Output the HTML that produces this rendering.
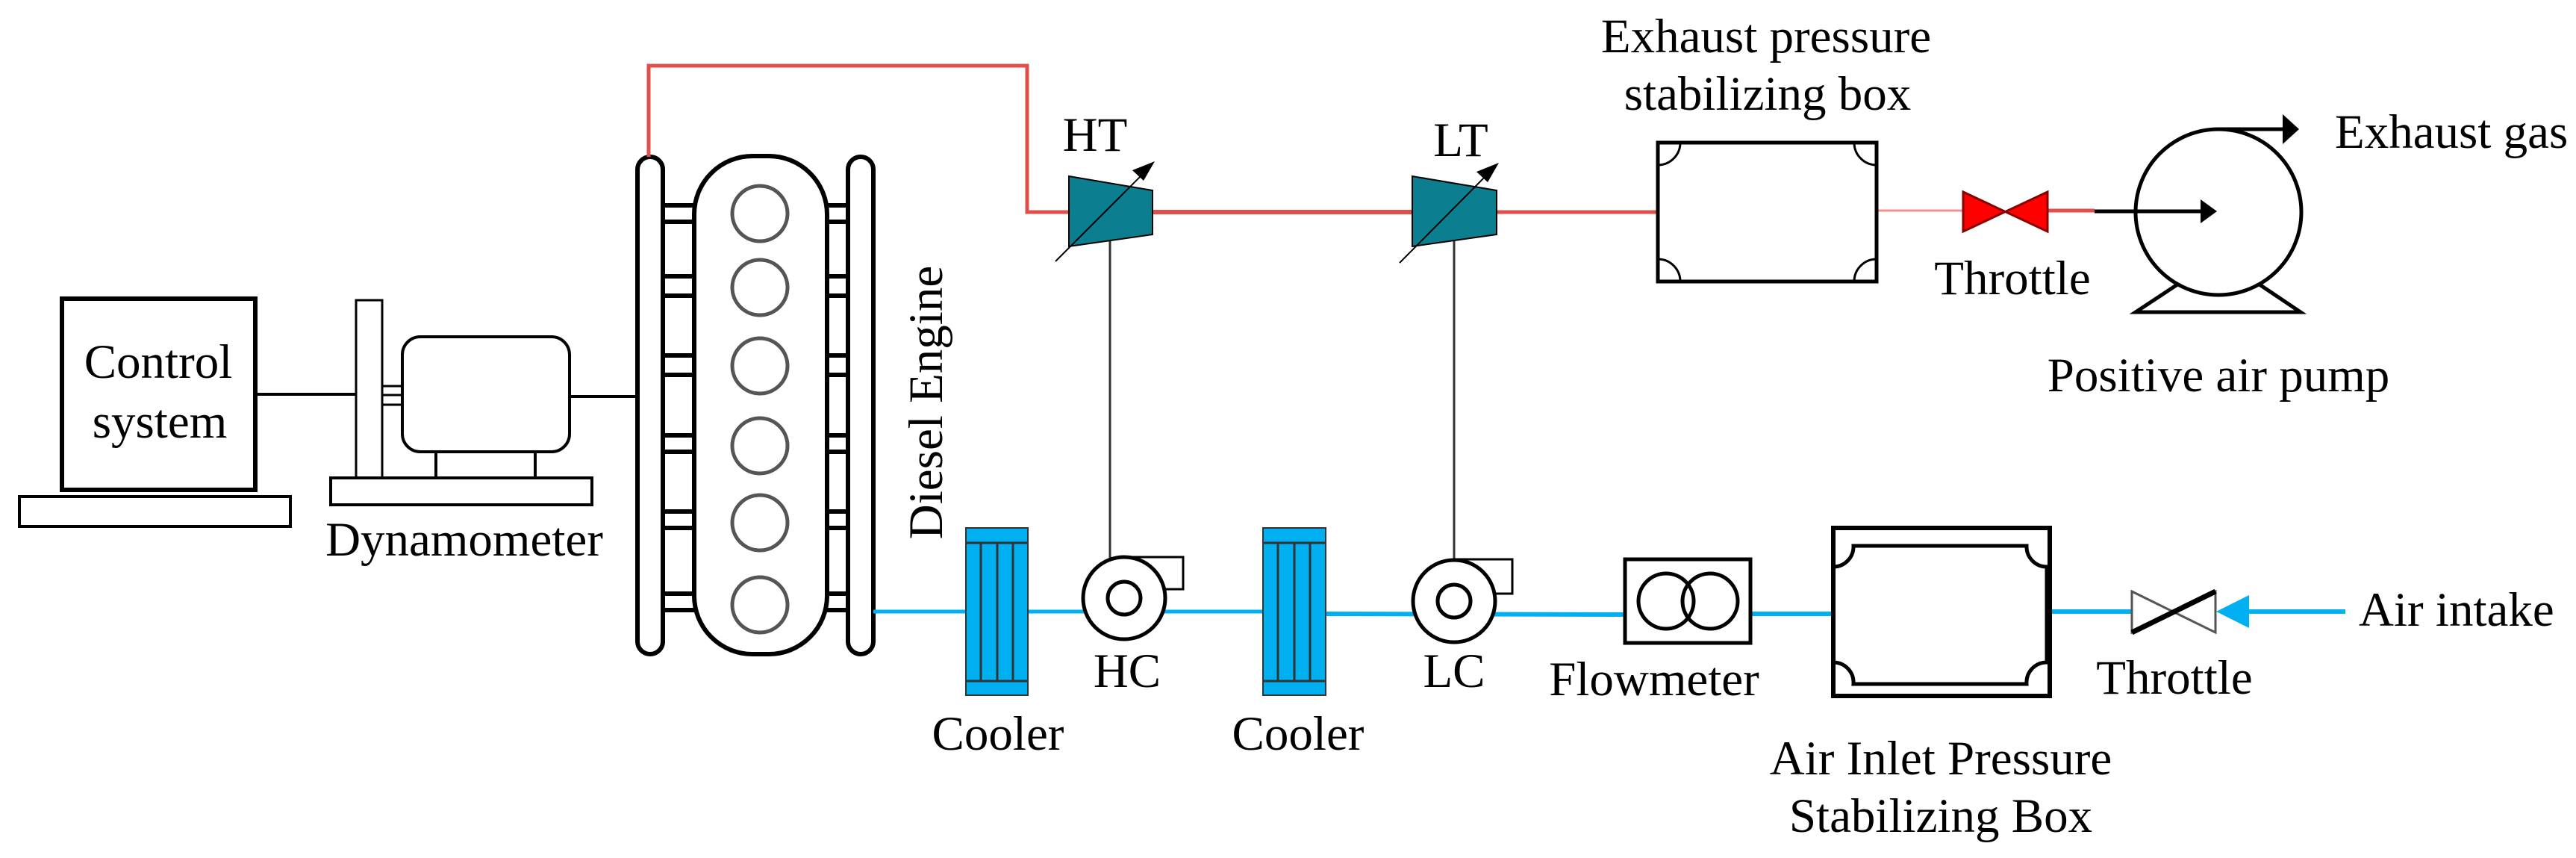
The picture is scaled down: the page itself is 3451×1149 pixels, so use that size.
<!DOCTYPE html>
<html><head><meta charset="utf-8"><style>
html,body{margin:0;padding:0;background:#fff;}
svg{display:block;}
svg text{font-family:"Times New Roman","Liberation Serif","DejaVu Serif",serif;font-size:65px;fill:#000;}
</style></head><body>
<svg width="3451" height="1149" viewBox="0 0 3451 1149" xmlns="http://www.w3.org/2000/svg">
<rect x="83" y="400" width="259" height="256" fill="#fff" stroke="#000" stroke-width="6"/>
<rect x="26" y="665" width="363" height="40" fill="#fff" stroke="#000" stroke-width="4"/>
<line x1="342" y1="528" x2="477" y2="528" stroke="#000" stroke-width="4"/>
<rect x="477" y="402" width="35" height="239" fill="#fff" stroke="#000" stroke-width="3"/>
<rect x="443" y="640" width="350" height="36" fill="#fff" stroke="#000" stroke-width="4"/>
<rect x="512" y="517" width="27" height="25" fill="#fff" stroke="#000" stroke-width="3"/>
<line x1="512" y1="529" x2="539" y2="529" stroke="#000" stroke-width="3"/>
<rect x="539" y="451" width="224" height="154" rx="24" fill="#fff" stroke="#000" stroke-width="4"/>
<line x1="584" y1="605" x2="584" y2="640" stroke="#000" stroke-width="4"/>
<line x1="717" y1="605" x2="717" y2="640" stroke="#000" stroke-width="4"/>
<line x1="763" y1="531" x2="854" y2="531" stroke="#000" stroke-width="4"/>
<g stroke="#000" stroke-width="6" fill="#fff">
<rect x="854" y="210" width="34" height="666" rx="17"/>
<rect x="1136" y="210" width="34" height="666" rx="17"/>
<rect x="930" y="209" width="178" height="667" rx="78"/>
</g>
<g stroke="#000" stroke-width="6">
<line x1="888" y1="275" x2="930" y2="275"/><line x1="888" y1="297" x2="930" y2="297"/>
<line x1="888" y1="370" x2="930" y2="370"/><line x1="888" y1="396" x2="930" y2="396"/>
<line x1="888" y1="476" x2="930" y2="476"/><line x1="888" y1="502" x2="930" y2="502"/>
<line x1="888" y1="583" x2="930" y2="583"/><line x1="888" y1="605" x2="930" y2="605"/>
<line x1="888" y1="685" x2="930" y2="685"/><line x1="888" y1="707" x2="930" y2="707"/>
<line x1="888" y1="795" x2="930" y2="795"/><line x1="888" y1="817" x2="930" y2="817"/>
<line x1="1108" y1="275" x2="1136" y2="275"/><line x1="1108" y1="297" x2="1136" y2="297"/>
<line x1="1108" y1="370" x2="1136" y2="370"/><line x1="1108" y1="396" x2="1136" y2="396"/>
<line x1="1108" y1="476" x2="1136" y2="476"/><line x1="1108" y1="502" x2="1136" y2="502"/>
<line x1="1108" y1="583" x2="1136" y2="583"/><line x1="1108" y1="605" x2="1136" y2="605"/>
<line x1="1108" y1="685" x2="1136" y2="685"/><line x1="1108" y1="707" x2="1136" y2="707"/>
<line x1="1108" y1="795" x2="1136" y2="795"/><line x1="1108" y1="817" x2="1136" y2="817"/>
</g>
<g stroke="#555" stroke-width="5" fill="none">
<circle cx="1018" cy="286" r="37"/><circle cx="1018" cy="385" r="37"/>
<circle cx="1018" cy="490" r="37"/><circle cx="1018" cy="597" r="37"/>
<circle cx="1018" cy="700" r="37"/><circle cx="1018" cy="810" r="37"/>
</g>
<polyline points="869,210 869,88 1376,88 1376,284 1432,284" fill="none" stroke="#e0504a" stroke-width="5"/>
<line x1="1544" y1="284" x2="1892" y2="284" stroke="#e0504a" stroke-width="6"/>
<line x1="2005" y1="284" x2="2221" y2="284" stroke="#e0504a" stroke-width="5"/>
<line x1="2514" y1="282" x2="2630" y2="282" stroke="#f09090" stroke-width="3"/>
<line x1="2743" y1="282" x2="2806" y2="282" stroke="#e0504a" stroke-width="5"/>
<line x1="1487" y1="320" x2="1487" y2="748" stroke="#333" stroke-width="3"/>
<line x1="1948" y1="320" x2="1948" y2="750" stroke="#333" stroke-width="3"/>
<polygon points="1432,236 1544,255 1544,314 1432,330" fill="#0b7f8f" stroke="#000" stroke-width="2"/>
<line x1="1414" y1="350" x2="1540" y2="224" stroke="#000" stroke-width="2"/>
<polygon points="1547,216 1517,228 1532,242" fill="#000"/>
<polygon points="1892,236 2005,255 2005,314 1892,330" fill="#0b7f8f" stroke="#000" stroke-width="2"/>
<line x1="1875" y1="352" x2="2000" y2="226" stroke="#000" stroke-width="2"/>
<polygon points="2008,218 1978,230 1993,244" fill="#000"/>
<rect x="2221" y="191" width="293" height="186" fill="#fff" stroke="#000" stroke-width="5"/>
<g fill="none" stroke="#000" stroke-width="3">
<path d="M2221,221 A30,30 0 0 0 2251,191"/>
<path d="M2484,191 A30,30 0 0 0 2514,221"/>
<path d="M2221,347 A30,30 0 0 1 2251,377"/>
<path d="M2484,377 A30,30 0 0 1 2514,347"/>
</g>
<polygon points="2630,257 2743,310 2743,257 2630,310" fill="#ff0000" stroke="#800" stroke-width="3"/>
<circle cx="2972" cy="284" r="111" fill="none" stroke="#000" stroke-width="5"/>
<polyline points="2917,381 2861,418 3082,418 3027,381" fill="none" stroke="#000" stroke-width="5"/>
<line x1="2806" y1="283" x2="2950" y2="283" stroke="#000" stroke-width="5"/>
<polygon points="2970,283 2948,267 2948,299" fill="#000"/>
<line x1="2972" y1="173" x2="3060" y2="173" stroke="#000" stroke-width="5"/>
<polygon points="3080,173 3058,153 3058,193" fill="#000"/>
<line x1="1170" y1="819" x2="1294" y2="819" stroke="#00b0f0" stroke-width="5"/>
<line x1="1377" y1="819" x2="1692" y2="819" stroke="#00b0f0" stroke-width="5"/>
<line x1="1776" y1="822" x2="2177" y2="823" stroke="#00b0f0" stroke-width="6"/>
<line x1="2345" y1="822" x2="2456" y2="822" stroke="#00b0f0" stroke-width="6"/>
<line x1="2746" y1="819" x2="2856" y2="819" stroke="#00b0f0" stroke-width="6"/>
<line x1="3010" y1="819" x2="3142" y2="819" stroke="#00b0f0" stroke-width="6"/>
<polygon points="2969,819 3013,797 3013,841" fill="#00b0f0"/>
<g>
<rect x="1294" y="707" width="83" height="224" fill="#00b0f0" stroke="#333" stroke-width="2"/>
<line x1="1294" y1="727" x2="1377" y2="727" stroke="#333" stroke-width="3"/>
<line x1="1294" y1="912" x2="1377" y2="912" stroke="#333" stroke-width="3"/>
<line x1="1314" y1="727" x2="1314" y2="912" stroke="#333" stroke-width="3"/>
<line x1="1336" y1="727" x2="1336" y2="912" stroke="#333" stroke-width="3"/>
<line x1="1357" y1="727" x2="1357" y2="912" stroke="#333" stroke-width="3"/>
</g>
<g>
<rect x="1692" y="707" width="84" height="224" fill="#00b0f0" stroke="#333" stroke-width="2"/>
<line x1="1692" y1="727" x2="1776" y2="727" stroke="#333" stroke-width="3"/>
<line x1="1692" y1="912" x2="1776" y2="912" stroke="#333" stroke-width="3"/>
<line x1="1712" y1="727" x2="1712" y2="912" stroke="#333" stroke-width="3"/>
<line x1="1734" y1="727" x2="1734" y2="912" stroke="#333" stroke-width="3"/>
<line x1="1755" y1="727" x2="1755" y2="912" stroke="#333" stroke-width="3"/>
</g>
<rect x="1506" y="746" width="79" height="43" fill="#fff" stroke="#000" stroke-width="3"/>
<circle cx="1506" cy="801" r="55" fill="#fff" stroke="#000" stroke-width="5"/>
<circle cx="1506" cy="801" r="22" fill="#fff" stroke="#000" stroke-width="5"/>
<rect x="1948" y="749" width="78" height="46" fill="#fff" stroke="#000" stroke-width="3"/>
<circle cx="1948" cy="805" r="55" fill="#fff" stroke="#000" stroke-width="5"/>
<circle cx="1948" cy="805" r="22" fill="#fff" stroke="#000" stroke-width="5"/>
<rect x="2177" y="749" width="168" height="112" fill="#fff" stroke="#000" stroke-width="5"/>
<circle cx="2232" cy="805" r="37" fill="none" stroke="#000" stroke-width="5"/>
<circle cx="2291" cy="805" r="37" fill="none" stroke="#000" stroke-width="5"/>
<rect x="2456" y="707" width="290" height="225" fill="#fff" stroke="#000" stroke-width="6"/>
<path d="M2456,759 A27,27 0 0 0 2483,731 L2715,731 A27,27 0 0 0 2742,759 L2742,887 A27,27 0 0 0 2715,916 L2483,916 A27,27 0 0 0 2456,887" fill="none" stroke="#000" stroke-width="5"/>
<polygon points="2856,792 2968,847 2968,792 2856,847" fill="#fff" stroke="#555" stroke-width="3"/>
<line x1="2856" y1="847" x2="2968" y2="792" stroke="#000" stroke-width="7"/>
<g font-family="Times New Roman, Liberation Serif, DejaVu Serif, serif" font-size="65">
<text x="212" y="506" text-anchor="middle">Control</text>
<text x="214" y="586" text-anchor="middle">system</text>
<text x="622" y="744" text-anchor="middle">Dynamometer</text>
<text transform="translate(1262,539) rotate(-90)" text-anchor="middle">Diesel Engine</text>
<text x="1467" y="202" text-anchor="middle">HT</text>
<text x="1957" y="209" text-anchor="middle">LT</text>
<text x="2366" y="70" text-anchor="middle">Exhaust pressure</text>
<text x="2368" y="147" text-anchor="middle">stabilizing box</text>
<text x="2696" y="394" text-anchor="middle">Throttle</text>
<text x="3128" y="198">Exhaust gas</text>
<text x="2972" y="524" text-anchor="middle">Positive air pump</text>
<text x="1337" y="1004" text-anchor="middle">Cooler</text>
<text x="1739" y="1004" text-anchor="middle">Cooler</text>
<text x="1510" y="920" text-anchor="middle">HC</text>
<text x="1948" y="920" text-anchor="middle">LC</text>
<text x="2216" y="931" text-anchor="middle">Flowmeter</text>
<text x="2600" y="1037" text-anchor="middle">Air Inlet Pressure</text>
<text x="2600" y="1114" text-anchor="middle">Stabilizing Box</text>
<text x="2913" y="929" text-anchor="middle">Throttle</text>
<text x="3160" y="838">Air intake</text>
</g>
</svg>
</body></html>
